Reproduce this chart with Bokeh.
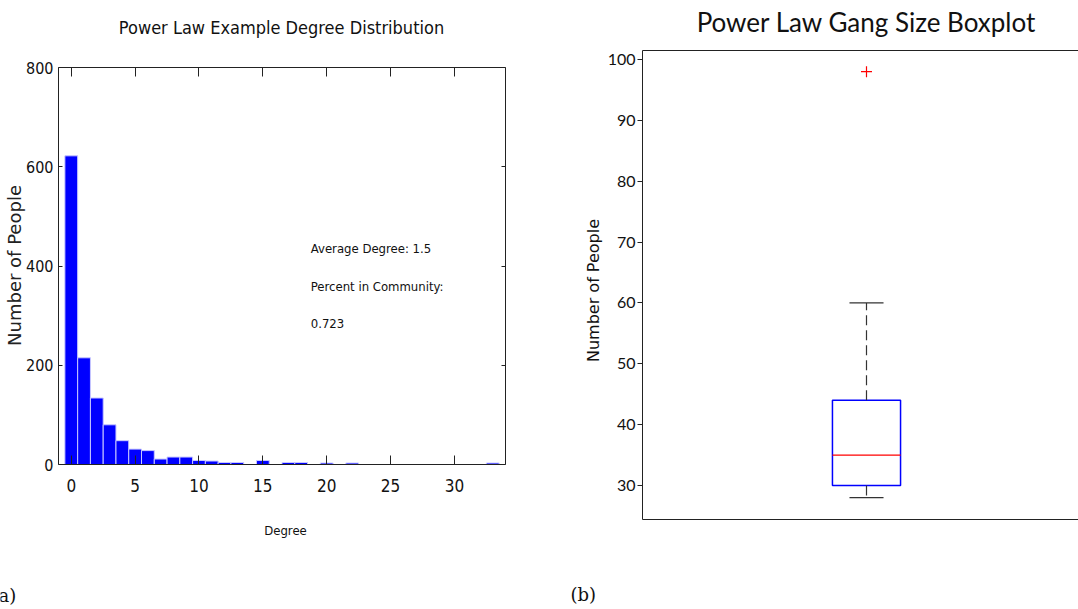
from bokeh.plotting import figure
from bokeh.models import Label, LinearAxis, FixedTicker, Range1d
from bokeh.layouts import row
from bokeh.embed import file_html
from bokeh.resources import INLINE

# ---- data: degree distribution (histogram) ----
degree = list(range(34))
counts = [622, 215, 134, 80, 48, 31, 28, 11, 15, 15,
          8, 7, 4, 4, 0, 8, 0, 4, 4, 0,
          3, 0, 3, 0, 0, 0, 0, 0, 0, 0,
          0, 0, 0, 3]
hist_x_ticks = [0, 5, 10, 15, 20, 25, 30]
hist_y_ticks = [0, 200, 400, 600, 800]
hist_xlim = (-1, 34)
hist_ylim = (0, 800)
annot_lines = ["Average Degree: 1.5", "Percent in Community:", "0.723"]
annot_y = [435, 359, 285]

# ---- data: gang size boxplot ----
box_pos = [1]
box_q1 = [30]
box_median = [35]
box_q3 = [44]
whisker_low = [28]
whisker_high = [60]
outlier_x = [1]
outlier_y = [98]
box_y_ticks = [30, 40, 50, 60, 70, 80, 90, 100]

NARROW = "DejaVu Sans Condensed"
SANS = "Lato"
WIDE = "DejaVu Sans"
SERIF = "DejaVu Serif"
AXC = "#222222"
TXT = "#111111"
H = 609


def fit_range(v0, p0, v1, p1, size):
    """Range over the whole canvas so that value v0 sits at pixel p0 and v1 at p1."""
    k = (v1 - v0) / (p1 - p0)
    a = v0 + (0 - p0) * k
    b = v0 + (size - p0) * k
    return Range1d(min(a, b), max(a, b))


def fixed_axis(p, side, loc, bounds, ticks, t_in, t_out, show_labels, font=None, fsize=None, standoff=4):
    ax = LinearAxis(fixed_location=loc, bounds=bounds, ticker=FixedTicker(ticks=ticks),
                    major_tick_in=t_in, major_tick_out=t_out, minor_tick_line_color=None,
                    axis_line_color=AXC, major_tick_line_color=AXC,
                    major_label_standoff=standoff)
    if show_labels:
        ax.major_label_text_font = font
        ax.major_label_text_font_size = fsize
        ax.major_label_text_color = TXT
    else:
        ax.major_label_text_color = None
    p.add_layout(ax, side)
    return ax


# ================= left: histogram =================
W1 = 560
# axes box in pixels: left 58, right 505, top 67, bottom 464
p1 = figure(width=W1, height=H,
            x_range=fit_range(hist_xlim[0], 58, hist_xlim[1], 505, W1),
            y_range=fit_range(hist_ylim[0], H - 464, hist_ylim[1], H - 67, H),
            x_axis_location=None, y_axis_location=None,
            output_backend="svg", toolbar_location=None,
            min_border_left=0, min_border_right=0, min_border_top=0, min_border_bottom=0)
p1.grid.visible = False
p1.outline_line_color = None
p1.background_fill_color = "white"
p1.border_fill_color = "white"

p1.vbar(x=degree, top=counts, width=1.0, fill_color="#0000FF",
        line_color="#c8c8ff", line_width=1)

fixed_axis(p1, "below", hist_ylim[0], hist_xlim, hist_x_ticks, 9, 0, True, NARROW, "17px", 14)
fixed_axis(p1, "above", hist_ylim[1], hist_xlim, hist_x_ticks, 9, 0, False)
fixed_axis(p1, "left", hist_xlim[0], hist_ylim, hist_y_ticks, 4, 0, True, NARROW, "16px", 5)
fixed_axis(p1, "right", hist_xlim[1], hist_ylim, hist_y_ticks, 4, 0, False)

for txt, yy in zip(annot_lines, annot_y):
    p1.add_layout(Label(x=18.75, y=yy, text=txt, text_font=NARROW, text_font_size="13px",
                        text_baseline="middle", text_align="left", text_color=TXT))

p1.add_layout(Label(x=281, y=H - 27, x_units="screen", y_units="screen",
                    text="Power Law Example Degree Distribution", text_font=NARROW,
                    text_font_size="18px", text_align="center", text_baseline="middle",
                    text_color=TXT))
p1.add_layout(Label(x=14, y=H - 265, x_units="screen", y_units="screen", angle=1.5708,
                    text="Number of People", text_font=WIDE, text_font_size="18px",
                    text_align="center", text_baseline="middle", text_color="#222222"))
p1.add_layout(Label(x=285, y=H - 530, x_units="screen", y_units="screen",
                    text="Degree", text_font=NARROW, text_font_size="13px",
                    text_align="center", text_baseline="middle", text_color=TXT))
p1.add_layout(Label(x=-9, y=H - 595, x_units="screen", y_units="screen",
                    text="(a)", text_font=SERIF, text_font_size="18px",
                    text_align="left", text_baseline="middle", text_color=TXT))

# ================= right: boxplot =================
W2 = 518
X0 = 560  # canvas offset of the right figure
# axes box: left 642, top 50, bottom 519 (right side runs past the window)
box_ylim = (30 - (519 - 485) / 6.0857, 100 + (59 - 50) / 6.0857)
p2 = figure(width=W2, height=H,
            x_range=fit_range(0.5, 642 - X0, 1.0, 866 - X0, W2),
            y_range=fit_range(30, H - 485, 100, H - 59, H),
            x_axis_location=None, y_axis_location=None,
            output_backend="svg", toolbar_location=None,
            min_border_left=0, min_border_right=0, min_border_top=0, min_border_bottom=0)
p2.grid.visible = False
p2.outline_line_color = None
p2.background_fill_color = "white"
p2.border_fill_color = "white"

hw = 0.076
cw = 0.038
p2.quad(left=[b - hw for b in box_pos], right=[b + hw for b in box_pos],
        bottom=box_q1, top=box_q3, fill_color=None, line_color="#0000FF", line_width=1.5)
p2.segment(x0=[b - hw for b in box_pos], x1=[b + hw for b in box_pos],
           y0=box_median, y1=box_median, line_color="#FF0000", line_width=1.2)
p2.segment(x0=box_pos, x1=box_pos, y0=box_q3, y1=whisker_high,
           line_color="#333333", line_width=1.2, line_dash="10 5")
p2.segment(x0=box_pos, x1=box_pos, y0=box_q1, y1=whisker_low,
           line_color="#333333", line_width=1.2, line_dash="10 5")
p2.segment(x0=[b - cw for b in box_pos], x1=[b + cw for b in box_pos],
           y0=whisker_high, y1=whisker_high, line_color="#333333", line_width=1.2)
p2.segment(x0=[b - cw for b in box_pos], x1=[b + cw for b in box_pos],
           y0=whisker_low, y1=whisker_low, line_color="#333333", line_width=1.2)
p2.scatter(x=outlier_x, y=outlier_y, marker="cross", size=11, line_color="#FF0000", line_width=1.2)

x_end = p2.x_range.end
fixed_axis(p2, "left", 0.5, box_ylim, box_y_ticks, 0, 5, True, SANS, "16px", 2)
fixed_axis(p2, "above", box_ylim[1], (0.5, x_end), [], 0, 0, False)
fixed_axis(p2, "below", box_ylim[0], (0.5, x_end), [], 0, 0, False)

p2.add_layout(Label(x=866 - X0, y=H - 21, x_units="screen", y_units="screen",
                    text="Power Law Gang Size Boxplot", text_font=SANS,
                    text_font_size="26px", text_align="center", text_baseline="middle",
                    text_color=TXT))
p2.add_layout(Label(x=593 - X0, y=H - 290, x_units="screen", y_units="screen", angle=1.5708,
                    text="Number of People", text_font=WIDE, text_font_size="16px",
                    text_align="center", text_baseline="middle", text_color=TXT))
p2.add_layout(Label(x=570 - X0, y=H - 594, x_units="screen", y_units="screen",
                    text="(b)", text_font=SERIF, text_font_size="18px",
                    text_align="left", text_baseline="middle", text_color=TXT))

layout = row(p1, p2)
open("out.html", "w").write(file_html(layout, INLINE))
